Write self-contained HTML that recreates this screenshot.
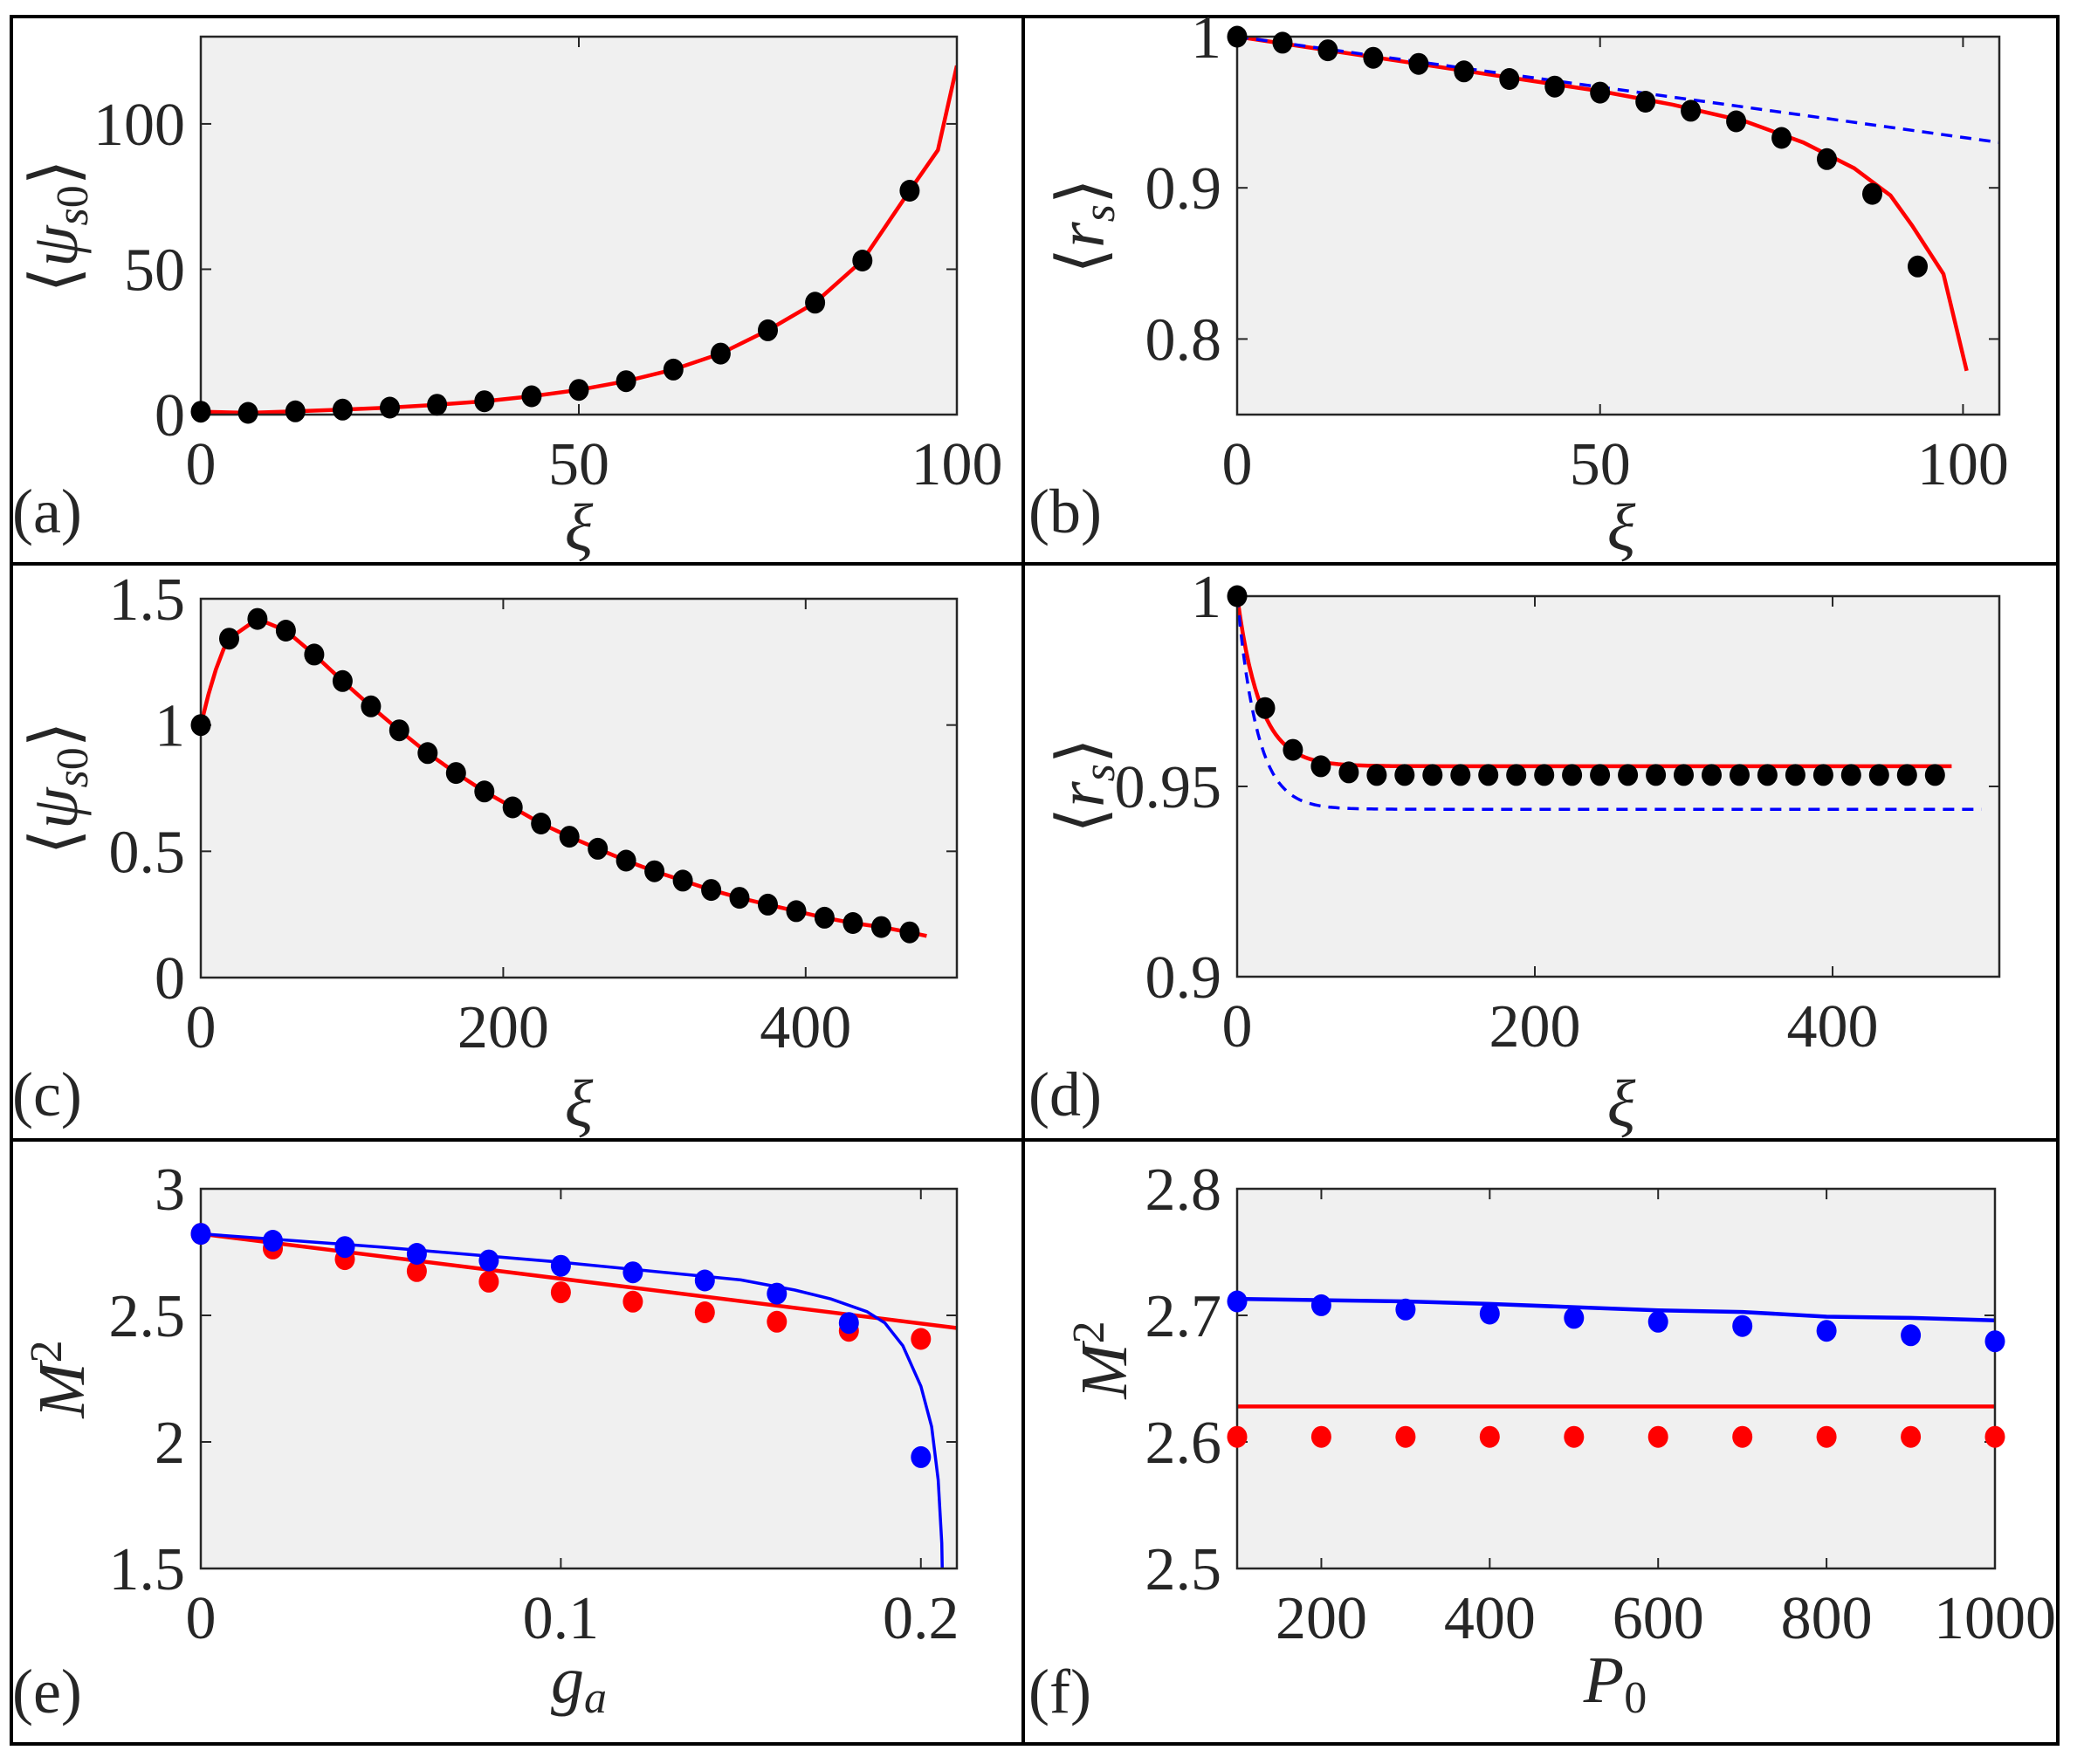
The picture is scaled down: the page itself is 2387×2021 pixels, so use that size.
<!DOCTYPE html>
<html><head><meta charset="utf-8">
<style>
html,body{margin:0;padding:0;background:#fff;}
svg{display:block;}
svg text{font-family:"Liberation Serif","DejaVu Serif",serif;fill:#262626;}
</style></head>
<body>
<svg id="s" xmlns="http://www.w3.org/2000/svg" width="2387" height="2021" viewBox="0 0 2387 2021" font-family="Liberation Serif, serif"></svg>
<script>
var S=document.getElementById('s'),out=[];
function P(s){out.push(s);}
P('<rect x="13" y="19" width="2344" height="1979" fill="none" stroke="#000" stroke-width="4"/>');
P('<line x1="1172" y1="19" x2="1172" y2="1998" stroke="#000" stroke-width="4"/>');
P('<line x1="13" y1="646" x2="2357" y2="646" stroke="#000" stroke-width="4"/>');
P('<line x1="13" y1="1306" x2="2357" y2="1306" stroke="#000" stroke-width="4"/>');
var FF='font-family="Liberation Serif, serif"';
function axes(o){
 var X=function(v){return o.x0+(v-o.xl[0])/(o.xl[1]-o.xl[0])*(o.x1-o.x0);};
 var Y=function(v){return o.y1-(v-o.yl[0])/(o.yl[1]-o.yl[0])*(o.y1-o.y0);};
 P('<rect x="'+o.x0+'" y="'+o.y0+'" width="'+(o.x1-o.x0)+'" height="'+(o.y1-o.y0)+'" fill="#f0f0f0"/>');
 var t=12;
 o.xt.forEach(function(v){var x=X(v);
  P('<line x1="'+x+'" y1="'+o.y1+'" x2="'+x+'" y2="'+(o.y1-t)+'" stroke="#262626" stroke-width="2"/>');
  P('<line x1="'+x+'" y1="'+o.y0+'" x2="'+x+'" y2="'+(o.y0+t)+'" stroke="#262626" stroke-width="2"/>');
  P('<text '+FF+' x="'+x+'" y="'+(o.y1+80)+'" font-size="70" text-anchor="middle">'+(o.xf?o.xf(v):v)+'</text>');});
 o.yt.forEach(function(v){var y=Y(v);
  P('<line x1="'+o.x0+'" y1="'+y+'" x2="'+(o.x0+t)+'" y2="'+y+'" stroke="#262626" stroke-width="2"/>');
  P('<line x1="'+o.x1+'" y1="'+y+'" x2="'+(o.x1-t)+'" y2="'+y+'" stroke="#262626" stroke-width="2"/>');
  P('<text '+FF+' x="'+(o.x0-18)+'" y="'+(y+24)+'" font-size="70" text-anchor="end">'+(o.yf?o.yf(v):v)+'</text>');});
 P('<clipPath id="c'+o.id+'"><rect x="'+(o.x0-1)+'" y="'+(o.y0-1)+'" width="'+(o.x1-o.x0+2)+'" height="'+(o.y1-o.y0+2)+'"/></clipPath>');
 (o.lines||[]).forEach(function(L){
  var d=L.p.map(function(p,i){return (i?'L':'M')+X(p[0]).toFixed(1)+' '+Y(p[1]).toFixed(1);}).join('');
  P('<path d="'+d+'" fill="none" stroke="'+L.c+'" stroke-width="'+(L.w||4.5)+'"'+(L.dash?' stroke-dasharray="'+L.dash+'"':'')+' clip-path="url(#c'+o.id+')"/>');});
 P('<rect x="'+o.x0+'" y="'+o.y0+'" width="'+(o.x1-o.x0)+'" height="'+(o.y1-o.y0)+'" fill="none" stroke="#262626" stroke-width="2.5"/>');
 (o.dots||[]).forEach(function(D){D.p.forEach(function(p){
  P('<ellipse cx="'+X(p[0]).toFixed(1)+'" cy="'+Y(p[1]).toFixed(1)+'" rx="11.5" ry="12.5" fill="'+D.c+'"/>');});});
}
function f1(v){return v.toFixed(1);}
var xa=[],va=[1,0.6,1.1,1.7,2.4,3.4,4.6,6.3,8.5,11.5,15.5,21,29,38.5,53,77];
va.forEach(function(v,i){xa.push([i*6.25,v]);});
axes({id:'a',x0:230,x1:1096,y0:42,y1:475,xl:[0,100],yl:[0,130],xt:[0,50,100],yt:[0,50,100],
 lines:[{c:'#f00',p:xa.concat([[97.5,91],[100,120]])}],dots:[{c:'#000',p:xa}]});
var vb=[1,0.996,0.991,0.986,0.982,0.977,0.972,0.967,0.963,0.957,0.951,0.944,0.933,0.919,0.896,0.848],pb=[];
vb.forEach(function(v,i){pb.push([i*6.25,v]);});
axes({id:'b',x0:1417,x1:2290,y0:42,y1:475,xl:[0,105],yl:[0.75,1.0],xt:[0,50,100],yt:[0.8,0.9,1],yf:function(v){return v===1?'1':v.toFixed(1);},
 lines:[{c:'#f00',p:[[0,1],[25,0.982],[50,0.964],[60,0.955],[70,0.944],[78,0.93],[85,0.913],[90,0.895],[93,0.875],[97.3,0.843],[100.5,0.779]]},
 {c:'#00f',w:3.5,dash:'13 9',p:[[0,1],[105,0.93]]}],dots:[{c:'#000',p:pb}]});
var vc=[1.0,1.342,1.42,1.374,1.279,1.174,1.074,0.979,0.889,0.81,0.737,0.674,0.61,0.558,0.51,0.463,0.421,0.384,0.347,0.316,0.289,0.263,0.237,0.216,0.2,0.179],pc=[];
vc.forEach(function(v,i){pc.push([i*18.75,v]);});
var lc=[[0,1.0],[5,1.12],[10,1.22],[15,1.3]].concat(pc.slice(1)).concat([[480,0.165]]);
axes({id:'c',x0:230,x1:1096,y0:686,y1:1120,xl:[0,500],yl:[0,1.5],xt:[0,200,400],yt:[0,0.5,1,1.5],yf:function(v){return v===0?'0':v===1?'1':v.toString();},
 lines:[{c:'#f00',p:lc}],dots:[{c:'#000',p:pc}]});
var pd=[],vd=[1,0.9706,0.9596,0.9553,0.9537];
for(var i=0;i<26;i++)pd.push([i*18.75,i<5?vd[i]:0.953]);
var rd=[],bd=[];
for(var x=0;x<=480;x+=2)rd.push([x,1-0.0447*(1-Math.exp(-x/15.5))]);
for(var x=0;x<=500;x+=2)bd.push([x,1-0.056*(1-Math.exp(-x/13.5))]);
axes({id:'d',x0:1417,x1:2290,y0:683,y1:1119,xl:[0,512],yl:[0.9,1.0],xt:[0,200,400],yt:[0.9,0.95,1],yf:function(v){return v===1?'1':v.toString();},
 lines:[{c:'#f00',p:rd},{c:'#00f',w:3.5,dash:'13 9',p:bd}],dots:[{c:'#000',p:pd}]});
var be=[2.822,2.795,2.77,2.743,2.717,2.696,2.67,2.638,2.586,2.47,1.94],re=[2.822,2.764,2.722,2.675,2.633,2.591,2.554,2.512,2.475,2.439,2.407];
var bp=[],rp=[];be.forEach(function(v,i){bp.push([i*0.02,v]);});re.forEach(function(v,i){rp.push([i*0.02,v]);});
axes({id:'e',x0:230,x1:1096,y0:1362,y1:1797,xl:[0,0.21],yl:[1.5,3],xt:[0,0.1,0.2],xf:function(v){return v===0?'0':v.toString();},yt:[1.5,2,2.5,3],
 lines:[{c:'#f00',p:[[0,2.822],[0.21,2.45]]},
 {c:'#00f',w:3.5,p:[[0,2.822],[0.05,2.77],[0.1,2.71],[0.15,2.64],[0.165,2.6],[0.175,2.565],[0.185,2.515],[0.19,2.47],[0.195,2.38],[0.2,2.22],[0.203,2.06],[0.2048,1.85],[0.2058,1.6],[0.206,1.45]]}],
 dots:[{c:'#f00',p:rp},{c:'#00f',p:bp}]});
var bf=[2.711,2.708,2.7046,2.7014,2.698,2.695,2.6916,2.6878,2.6843,2.6795],fb=[],fr=[];
bf.forEach(function(v,i){fb.push([100+i*100,v]);fr.push([100+i*100,2.604]);});
axes({id:'f',x0:1417,x1:2285,y0:1362,y1:1797,xl:[100,1000],yl:[2.5,2.8],xt:[200,400,600,800,1000],yt:[2.5,2.6,2.7,2.8],yf:f1,
 lines:[{c:'#f00',p:[[100,2.628],[1000,2.628]]},{c:'#00f',w:4.5,p:[[100,2.713],[300,2.711],[400,2.709],[500,2.7065],[600,2.704],[700,2.7027],[800,2.699],[900,2.698],[1000,2.696]]}],
 dots:[{c:'#f00',p:fr},{c:'#00f',p:fb}]});
function T(x,y,s,sz,extra){P('<text '+FF+' x="'+x+'" y="'+y+'" font-size="'+sz+'" '+(extra||'')+'>'+s+'</text>');}
T(14,610,'(a)',72);T(1178,610,'(b)',72);T(14,1278,'(c)',72);T(1178,1278,'(d)',72);T(14,1962,'(e)',72);T(1178,1962,'(f)',72);
T(663,630,'ξ',76,'font-style="italic" text-anchor="middle"');T(1857,630,'ξ',76,'font-style="italic" text-anchor="middle"');
T(663,1290,'ξ',76,'font-style="italic" text-anchor="middle"');T(1857,1290,'ξ',76,'font-style="italic" text-anchor="middle"');
P('<text '+FF+' x="663" y="1950" font-size="76" text-anchor="middle" font-style="italic">g<tspan font-size="52" dy="12">a</tspan></text>');
P('<text '+FF+' x="1850" y="1950" font-size="76" text-anchor="middle" font-style="italic">P<tspan font-size="52" dy="12" font-style="normal">0</tspan></text>');
function YL(x,y,html){P('<text '+FF+' transform="translate('+x+' '+y+') rotate(-90)" font-size="76" text-anchor="middle">'+html+'</text>');}
YL(88,259,'⟨<tspan font-style="italic">ψ</tspan><tspan font-size="52" dy="12" font-style="italic">s</tspan><tspan font-size="52">0</tspan><tspan dy="-12">⟩</tspan>');
YL(1264,259,'⟨<tspan font-style="italic">r</tspan><tspan font-size="52" dy="12" font-style="italic">s</tspan><tspan dy="-12">⟩</tspan>');
YL(88,903,'⟨<tspan font-style="italic">ψ</tspan><tspan font-size="52" dy="12" font-style="italic">s</tspan><tspan font-size="52">0</tspan><tspan dy="-12">⟩</tspan>');
YL(1264,900,'⟨<tspan font-style="italic">r</tspan><tspan font-size="52" dy="12" font-style="italic">s</tspan><tspan dy="-12">⟩</tspan>');
YL(96,1580,'<tspan font-style="italic">M</tspan><tspan font-size="52" dy="-26">2</tspan>');
YL(1290,1558,'<tspan font-style="italic">M</tspan><tspan font-size="52" dy="-26">2</tspan>');
S.innerHTML=out.join('');
</script>
</body></html>
